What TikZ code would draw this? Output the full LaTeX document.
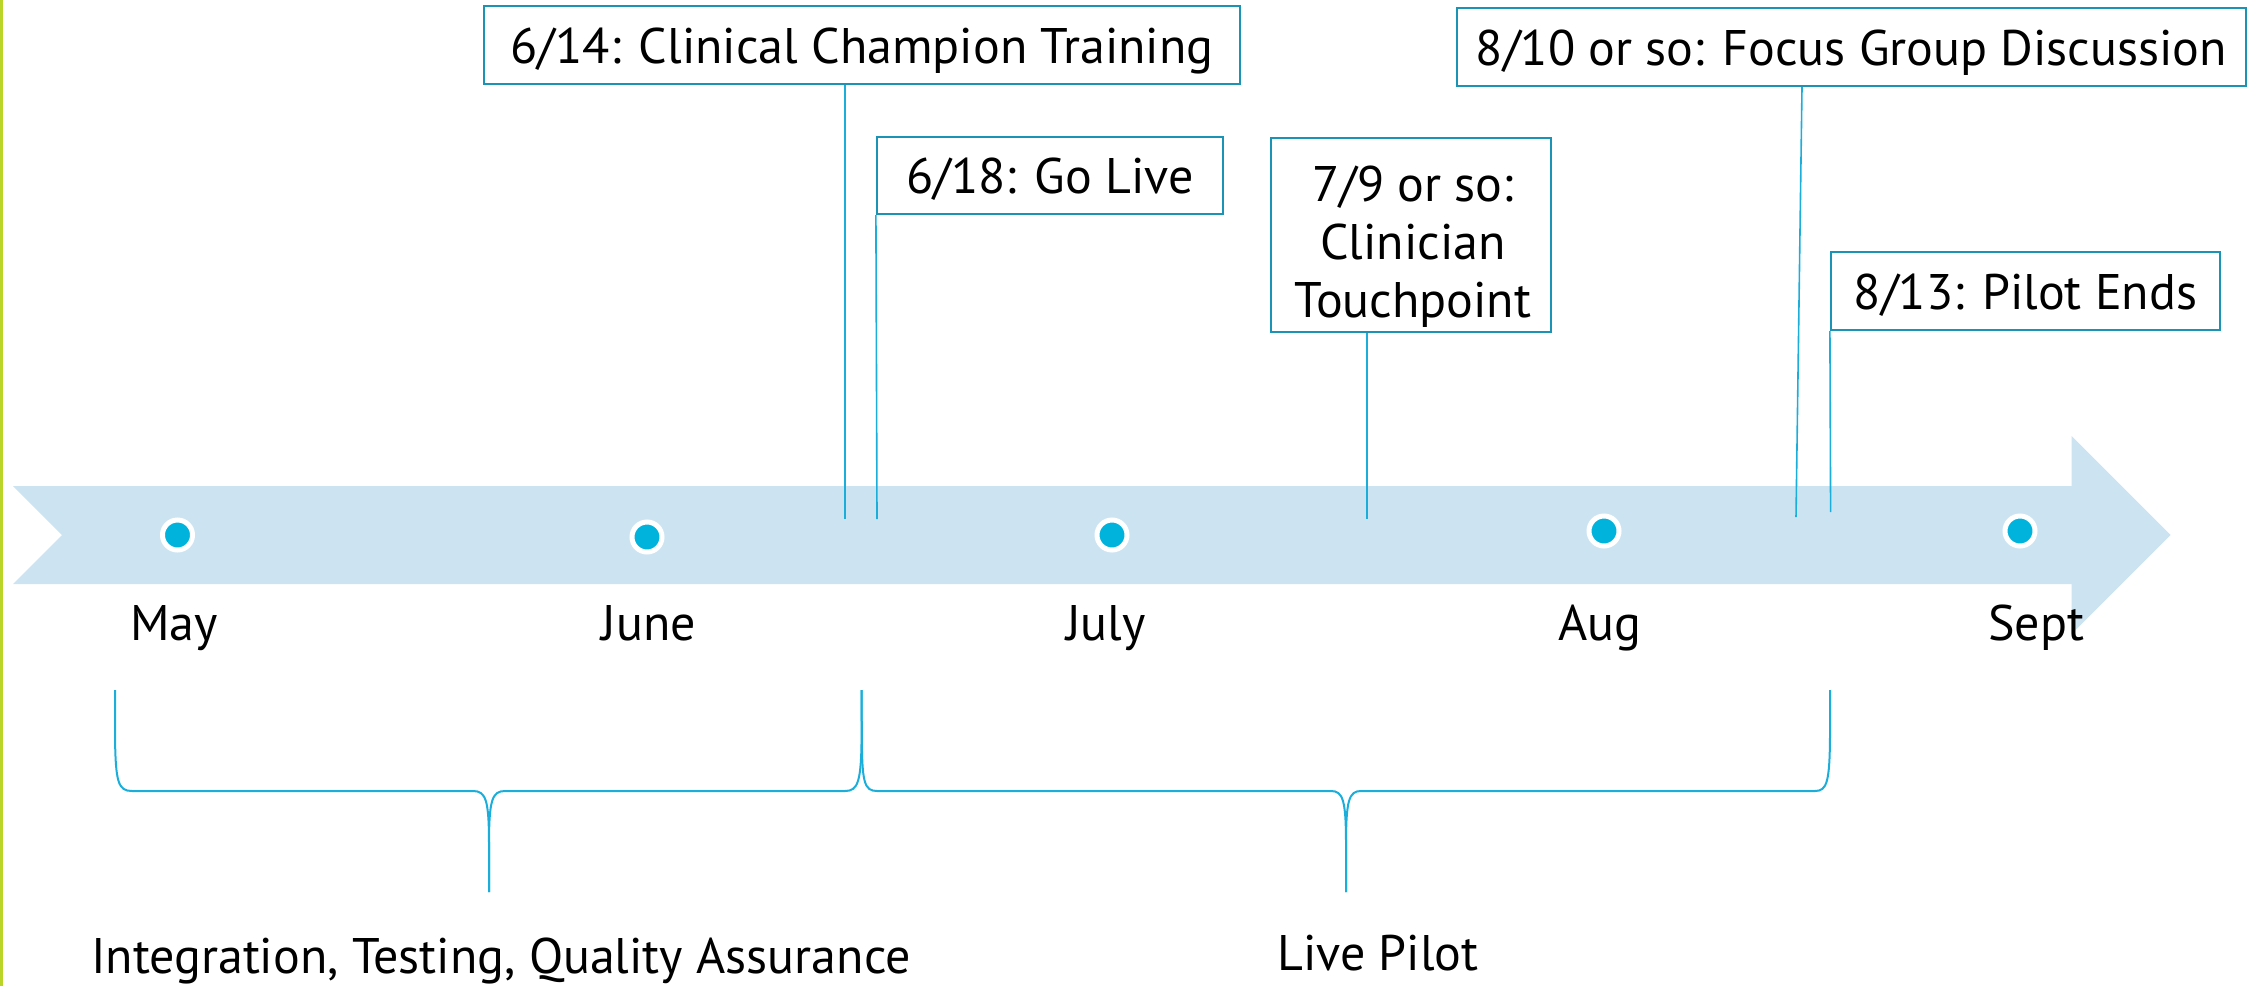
\documentclass[tikz,border=0pt]{standalone}
\usepackage{fontspec}
\setmainfont{PT Sans}
\definecolor{leftgreen}{HTML}{B9D52A}
\definecolor{bandblue}{HTML}{CCE4F2}
\definecolor{dotcyan}{HTML}{00B3DD}
\definecolor{boxteal}{HTML}{1A93B5}
\definecolor{linecyan}{HTML}{1BAEDB}
\tikzset{
  lbl/.style={font=\fontsize{50}{58}\selectfont, inner sep=0pt, text=black},
  evbox/.style={draw=boxteal, line width=2.2pt, fill=white, font=\fontsize{50}{58}\selectfont, inner sep=0pt, text height=36pt, text depth=0pt},
  evbox3/.style={draw=boxteal, line width=2.2pt, fill=white, inner sep=0pt},
  dot/.style={circle, fill=dotcyan, draw=white, line width=5pt, minimum size=30pt, inner sep=0pt},
  conn/.style={draw=linecyan, line width=1.6pt},
  brace/.style={draw=linecyan, line width=2pt}
}
\begin{document}
\begin{tikzpicture}[x=1pt,y=-1pt]
\useasboundingbox (0,0) rectangle (2248,986);
% left accent line
\fill[leftgreen] (0,0) rectangle (2.6,986);
% band arrow
\fill[bandblue] (13,486) -- (2071.5,486) -- (2071.5,436) -- (2170.5,535) -- (2071.5,634) -- (2071.5,584) -- (13,584) -- (62,535) -- cycle;
% dots
\node[dot] (dmay) at (177.5,535) {};
\node[dot] (djun) at (647,537) {};
\node[dot] (djul) at (1112,535) {};
\node[dot] (daug) at (1604,531) {};
\node[dot] (dsep) at (2020,531) {};
% month labels
\node[lbl, anchor=base] (lmay) at (174,640) {May};
\node[lbl, anchor=base] (ljun) at (649,640) {June};
\node[lbl, anchor=base] (ljul) at (1106,640) {July};
\node[lbl, anchor=base] (laug) at (1600,640) {Aug};
\node[lbl, anchor=base] (lsep) at (2036,640) {Sept};
% event boxes
\node[evbox, minimum width=756pt, minimum height=78pt] (b1) at (862,45) {6/14: Clinical Champion Training};
\node[evbox, minimum width=346pt, minimum height=77pt] (b2) at (1050,175.5) {6/18: Go Live};
\node[evbox3, minimum width=280pt, minimum height=194pt] (b3) at (1411,235) {};
\node[lbl, align=center, anchor=center] (t3) at (1413,247) {7/9 or so:\\Clinician\\Touchpoint};
\node[evbox, minimum width=789pt, minimum height=78pt] (b4) at (1851.5,47) {8/10 or so: Focus Group Discussion};
\node[evbox, minimum width=389pt, minimum height=78pt] (b5) at (2025.5,291) {8/13: Pilot Ends};
% connector ends
\coordinate (c1) at (845,519);
\coordinate (c2) at (877,519);
\coordinate (c3) at (1367,519);
\coordinate (c4) at (1796,517);
\coordinate (c5) at (1830.6,512);
\draw[conn] (b1.south -| c1) -- (c1);
\draw[conn] (b2.south west) -- (c2);
\draw[conn] (b3.south -| c3) -- (c3);
\draw[conn] (b4.south -| 1802,0) -- (c4);
\draw[conn] (b5.south west) -- (c5);
% braces
\coordinate (ba1) at (115,690);
\coordinate (bt1) at (489,892);
\coordinate (ba2) at (861.6,690);
\coordinate (bt2) at (1346,892);
\coordinate (ba3) at (1830,690);
\draw[brace] (ba1) -- (115,735) .. controls (115.5,782) and (118,791) .. (132,791) -- (473,791) .. controls (486,791) and (489,800) .. (489,845) -- (bt1);
\draw[brace] (bt1) -- (489,845) .. controls (489,800) and (492,791) .. (505,791) -- (845,791) .. controls (858,791) and (861.3,782) .. (861.6,735) -- (ba2);
\draw[brace] (ba2) -- (861.8,735) .. controls (862,782) and (864,791) .. (877,791) -- (1331,791) .. controls (1343,791) and (1346,800) .. (1346,845) -- (bt2);
\draw[brace] (bt2) -- (1346,845) .. controls (1346,800) and (1349,791) .. (1361,791) -- (1815,791) .. controls (1827,791) and (1829.7,782) .. (1830,735) -- (ba3);
% brace labels
\node[lbl, anchor=base] (t1) at (501,973) {Integration, Testing, Quality Assurance};
\node[lbl, anchor=base] (t2) at (1378,970) {Live Pilot};
\end{tikzpicture}
\end{document}
